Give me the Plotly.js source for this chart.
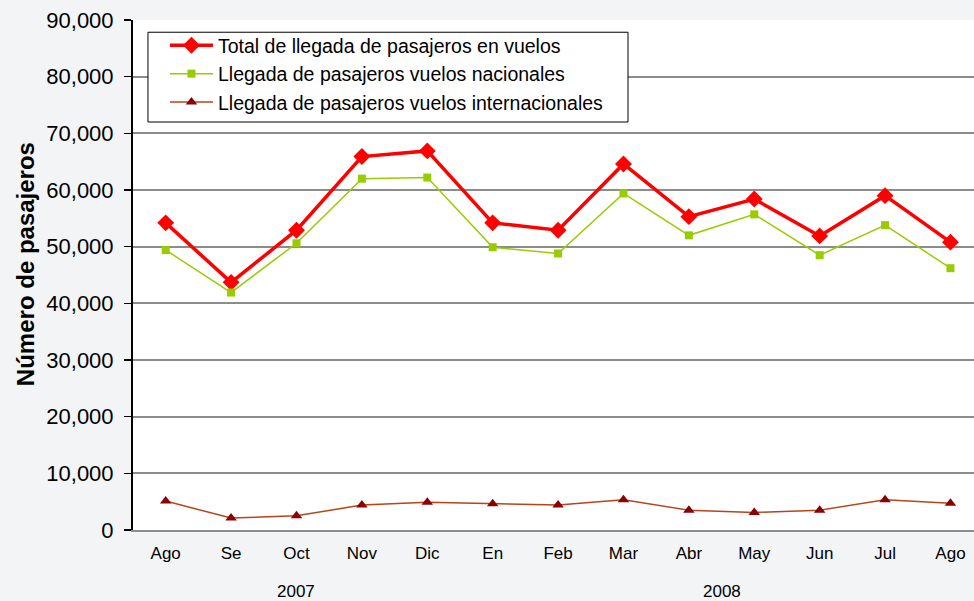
<!DOCTYPE html>
<html>
<head>
<meta charset="utf-8">
<script src="https://cdn.plot.ly/plotly-3.0.1.min.js"></script>
<style>
    body { margin: 0; padding: 0; background: #f2f4f5; }
    #chart { width: 974px; height: 601px; }
</style>
</head>
<body>
<div id="chart"></div>
<script>
// Monthly arrivals, Ago 2007 - Ago 2008
const months = ['Ago', 'Se', 'Oct', 'Nov', 'Dic', 'En', 'Feb', 'Mar', 'Abr', 'May', 'Jun', 'Jul', 'Ago'];
const years = ['2007', '2007', '2007', '2007', '2007', '2008', '2008', '2008', '2008', '2008', '2008', '2008', '2008'];

const totalArrivals = [54200, 43700, 52900, 65900, 66900, 54200, 52900, 64600, 55300, 58400, 51900, 59000, 50800];
const domesticArrivals = [49400, 41900, 50600, 62000, 62200, 49900, 48800, 59400, 52000, 55700, 48500, 53800, 46200];
const internationalArrivals = [5100, 2100, 2500, 4400, 4900, 4650, 4400, 5350, 3500, 3100, 3500, 5350, 4700];

const FONT = 'Arial, "Liberation Sans", sans-serif';
const xIdx = months.map((_, i) => i);

const traces = [
    {
        x: xIdx,
        y: totalArrivals,
        name: 'Total de llegada de pasajeros en vuelos',
        type: 'scatter',
        mode: 'lines+markers',
        line: { color: '#ff0000', width: 3.5 },
        marker: { symbol: 'diamond', size: 13, color: '#ff0000' }
    },
    {
        x: xIdx,
        y: domesticArrivals,
        name: 'Llegada de pasajeros vuelos nacionales',
        type: 'scatter',
        mode: 'lines+markers',
        line: { color: '#99cc00', width: 1.5 },
        marker: { symbol: 'square', size: 8, color: '#99cc00' }
    },
    {
        x: xIdx,
        y: internationalArrivals,
        name: 'Llegada de pasajeros vuelos internacionales',
        type: 'scatter',
        mode: 'lines+markers',
        line: { color: '#b5451b', width: 1.5 },
        marker: { symbol: 'triangle-up', size: 10, color: '#8b0000' }
    }
];

// Year labels centred under their group of months
const yearAnnotations = [...new Set(years)].map(yr => {
    const idx = xIdx.filter(i => years[i] === yr);
    return {
        x: (idx[0] + idx[idx.length - 1]) / 2,
        xref: 'x',
        y: -0.12,
        yref: 'paper',
        yanchor: 'middle',
        text: yr,
        showarrow: false,
        font: { family: FONT, size: 17, color: '#000' }
    };
});

// y title sits a bit above the plot centre, like the original
const yTitle = {
    x: -0.128,
    xref: 'paper',
    y: 0.522,
    yref: 'paper',
    xanchor: 'center',
    yanchor: 'middle',
    textangle: -90,
    text: '<b>Número de pasajeros</b>',
    showarrow: false,
    font: { family: FONT, size: 24, color: '#000' }
};

const layout = {
    width: 974,
    height: 601,
    margin: { l: 133, r: 0, t: 20, b: 71 },
    paper_bgcolor: '#f2f4f5',
    plot_bgcolor: '#ffffff',
    font: { family: FONT, color: '#000' },
    showlegend: true,
    legend: {
        x: 0.038,
        xanchor: 'left',
        y: 0.988,
        yanchor: 'top',
        bgcolor: 'rgba(0,0,0,0)',
        borderwidth: 0,
        itemwidth: 43,
        font: { family: FONT, size: 19.5, color: '#000' }
    },
    // legend frame, drawn separately so it can be wider than the entries
    shapes: [{
        type: 'rect',
        xref: 'paper',
        yref: 'paper',
        x0: 0.0178,
        x1: 0.5886,
        y0: 0.8,
        y1: 0.976,
        fillcolor: '#ffffff',
        line: { color: '#000000', width: 1 },
        layer: 'above'
    }],
    xaxis: {
        range: [-0.5, 12.36],
        tickmode: 'array',
        tickvals: xIdx,
        ticktext: months,
        showgrid: false,
        zeroline: false,
        showline: true,
        linecolor: '#8c8c8c',
        linewidth: 2,
        ticks: '',
        ticklabelstandoff: 7,
        tickfont: { family: FONT, size: 17, color: '#000' }
    },
    yaxis: {
        range: [0, 90000],
        dtick: 10000,
        tickformat: ',',
        showgrid: true,
        gridcolor: '#8c8c8c',
        gridwidth: 2,
        zeroline: false,
        showline: true,
        linecolor: '#000000',
        linewidth: 2,
        ticks: 'outside',
        ticklen: 7,
        tickwidth: 1.5,
        tickcolor: '#000000',
        ticklabelstandoff: 6,
        tickfont: { family: FONT, size: 22, color: '#000' }
    },
    annotations: [...yearAnnotations, yTitle]
};

const config = { displayModeBar: false, staticPlot: true };

Plotly.newPlot('chart', traces, layout, config);
</script>
</body>
</html>
